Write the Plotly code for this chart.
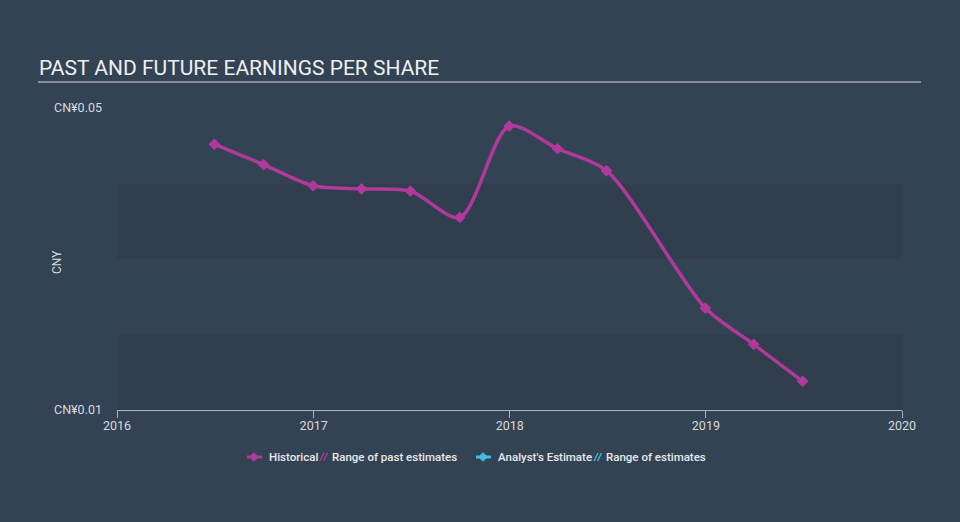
import plotly.graph_objects as go

dates = ["2016-06-30", "2016-09-30", "2016-12-31", "2017-03-31", "2017-06-30",
         "2017-09-30", "2017-12-31", "2018-03-31", "2018-06-30", "2018-12-31",
         "2019-03-31", "2019-06-30"]
eps = [0.0452, 0.0425, 0.0397, 0.0393, 0.0390, 0.0355, 0.0476, 0.0446,
       0.0417, 0.0235, 0.0187, 0.0138]

y_ticks = [0.01, 0.05]
y_tick_text = ["CN¥0.01", "CN¥0.05"]
x_ticks = ["2016-01-01", "2017-01-01", "2018-01-01", "2019-01-01", "2020-01-01"]
x_tick_text = ["2016", "2017", "2018", "2019", "2020"]
bands = [(0.01, 0.02), (0.03, 0.04)]
legend_labels = ["Historical", "Range of past estimates", "Analyst's Estimate", "Range of estimates"]

MAGENTA = "#b2399c"
CYAN = "#3fbfe6"
BG = "#344354"
BAND = "#303e4e"
TXT = "#d6dadf"

# plot area in pixels
L, R, T, B = 117, 902, 108, 410
W, H = R - L, B - T


def px(x):
    return (x - L) / W


def py(y):
    return (B - y) / H


fig = go.Figure()
fig.add_trace(go.Scatter(
    x=dates, y=eps, mode="lines+markers", name="Historical", showlegend=False,
    line=dict(color=MAGENTA, width=3.5, shape="spline", smoothing=0.8),
    marker=dict(symbol="diamond", size=9, color=MAGENTA),
))

shapes = []
for lo, hi in bands:
    shapes.append(dict(type="rect", xref="paper", yref="y", x0=0, x1=1, y0=lo, y1=hi,
                       fillcolor=BAND, line=dict(width=0), layer="below"))
# title underline
shapes.append(dict(type="line", xref="paper", yref="paper", x0=px(38), x1=px(921),
                   y0=py(82), y1=py(82), line=dict(color="#a3a9b0", width=1.5)))

# manual legend
ly = 457


def swatch(cx, color):
    shapes.append(dict(type="line", xref="paper", yref="paper", x0=px(cx - 7), x1=px(cx + 8),
                       y0=py(ly), y1=py(ly), line=dict(color=color, width=3)))
    d = 4.5
    path = "M {},{} L {},{} L {},{} L {},{} Z".format(
        px(cx), py(ly - d), px(cx + d), py(ly), px(cx), py(ly + d), px(cx - d), py(ly))
    shapes.append(dict(type="path", xref="paper", yref="paper", path=path,
                       fillcolor=color, line=dict(color=color, width=0.5)))


def hatch(x0, color):
    for off in (0, 3.5):
        shapes.append(dict(type="line", xref="paper", yref="paper",
                           x0=px(x0 + off), y0=py(ly + 4), x1=px(x0 + off + 4), y1=py(ly - 4),
                           line=dict(color=color, width=1.2)))


swatch(254, MAGENTA)
hatch(320, MAGENTA)
swatch(483, CYAN)
hatch(594, CYAN)

fig.update_layout(shapes=shapes)

legend_x = [267, 330, 496, 604]
for lx, lab in zip(legend_x, legend_labels):
    fig.add_annotation(text=lab, xref="paper", yref="paper", x=px(lx), y=py(ly),
                       xanchor="left", yanchor="middle", showarrow=False,
                       font=dict(size=11.5, color="#e8eaed", family="Roboto", weight=500))

fig.add_annotation(text="PAST AND FUTURE EARNINGS PER SHARE", xref="paper", yref="paper",
                   x=px(37), y=py(68), xanchor="left", yanchor="middle", showarrow=False,
                   font=dict(size=21, color="#eef0f2", family="Roboto"))
fig.add_annotation(text="CNY", xref="paper", yref="paper", x=px(57), y=py(262),
                   xanchor="center", yanchor="middle", textangle=-90, showarrow=False,
                   font=dict(size=12, color=TXT, family="Roboto"))

fig.update_layout(
    width=960, height=522,
    margin=dict(l=L, r=960 - R, t=T, b=522 - B, pad=0),
    paper_bgcolor=BG, plot_bgcolor=BG,
    font=dict(family="Roboto", color=TXT, size=12),
    showlegend=False,
    xaxis=dict(type="date", range=["2016-01-01", "2020-01-01"], tickvals=x_ticks,
               ticktext=x_tick_text, showgrid=False, zeroline=False, showline=True,
               linecolor="#aab2bb", linewidth=1, ticks="outside", ticklen=7,
               tickcolor="#aab2bb", ticklabelstandoff=-3, tickfont=dict(size=12.5, color=TXT)),
    yaxis=dict(range=[0.01, 0.05], tickvals=y_ticks, ticktext=y_tick_text,
               showgrid=False, zeroline=False, showline=False, ticks="",
               ticklabelstandoff=14, tickfont=dict(size=12.5, color=TXT)),
)

fig.write_html("out.html", config={"displayModeBar": False},
               post_script="document.body.style.margin='0';document.body.style.overflow='hidden';")
